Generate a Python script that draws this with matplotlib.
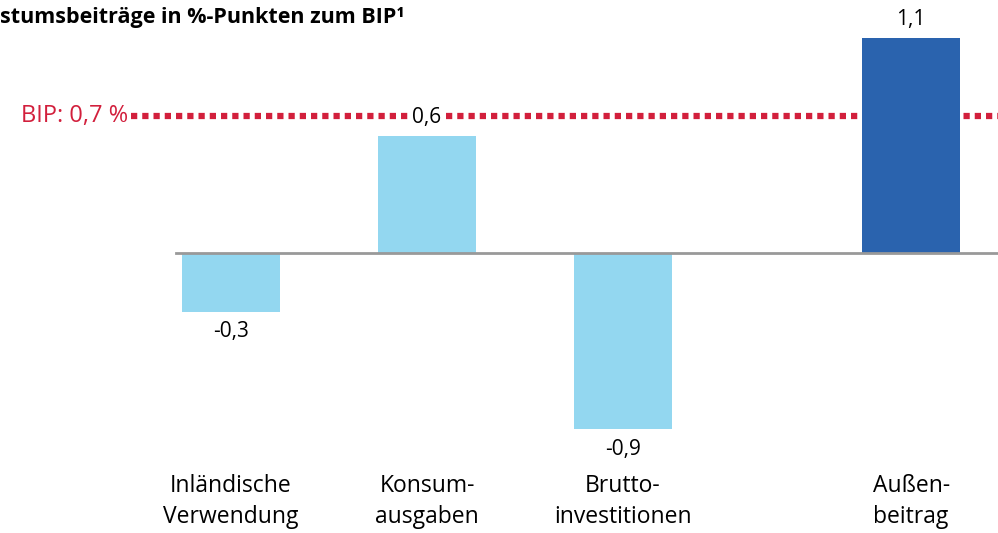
import matplotlib.pyplot as plt

# Wachstumsbeiträge zum BIP in %-Punkten
title = 'stumsbeiträge in %-Punkten zum BIP¹'
categories = ['Inländische\nVerwendung', 'Konsum-\nausgaben', 'Brutto-\ninvestitionen', 'Außen-\nbeitrag']
values = [-0.3, 0.6, -0.9, 1.1]
value_labels = ['-0,3', '0,6', '-0,9', '1,1']
bip = 0.7
bip_label = 'BIP: 0,7 %'

x_pos = [0, 1, 2, 3.47]
colors = ['#93D7F0', '#93D7F0', '#93D7F0', '#2A63AE']

plt.rcParams['font.family'] = ['Open Sans', 'DejaVu Sans']

fig = plt.figure(figsize=(9.98, 5.33), dpi=100)
ax = fig.add_axes([0, 0, 1, 1])
ax.set_xlim(-231 / 196, 767 / 196)
ax.set_ylim(-280 / 195.5, 253 / 195.5)
ax.axis('off')

# BIP reference line (behind bars)
ax.plot([-0.51, 3.92], [bip, bip], color='#D21F3C', lw=4.5,
        linestyle=(0, (1.0, 0.8)), zorder=1, solid_capstyle='butt')
ax.text(-0.525, bip, bip_label, color='#D21F3C', fontsize=17,
        ha='right', va='center')

ax.bar(x_pos, values, width=0.5, color=colors, zorder=2)
ax.plot([-0.28, 3.92], [0, 0], color='#999999', lw=2, zorder=3)

for x, v, lab in zip(x_pos, values, value_labels):
    if v >= 0:
        ax.text(x, v + 0.04, lab, ha='center', va='bottom', fontsize=15,
                zorder=4, bbox=dict(facecolor='white', edgecolor='none', pad=1))
    else:
        ax.text(x, v - 0.05, lab, ha='center', va='top', fontsize=15)

for x, cat in zip(x_pos, categories):
    ax.text(x, -1.27, cat, ha='center', va='center', fontsize=16.5,
            linespacing=1.4)

fig.text(0, 1 - 18 / 533, title, ha='left', va='center',
         fontsize=15.5, fontweight='bold')

fig.savefig('out.png', dpi=100)
